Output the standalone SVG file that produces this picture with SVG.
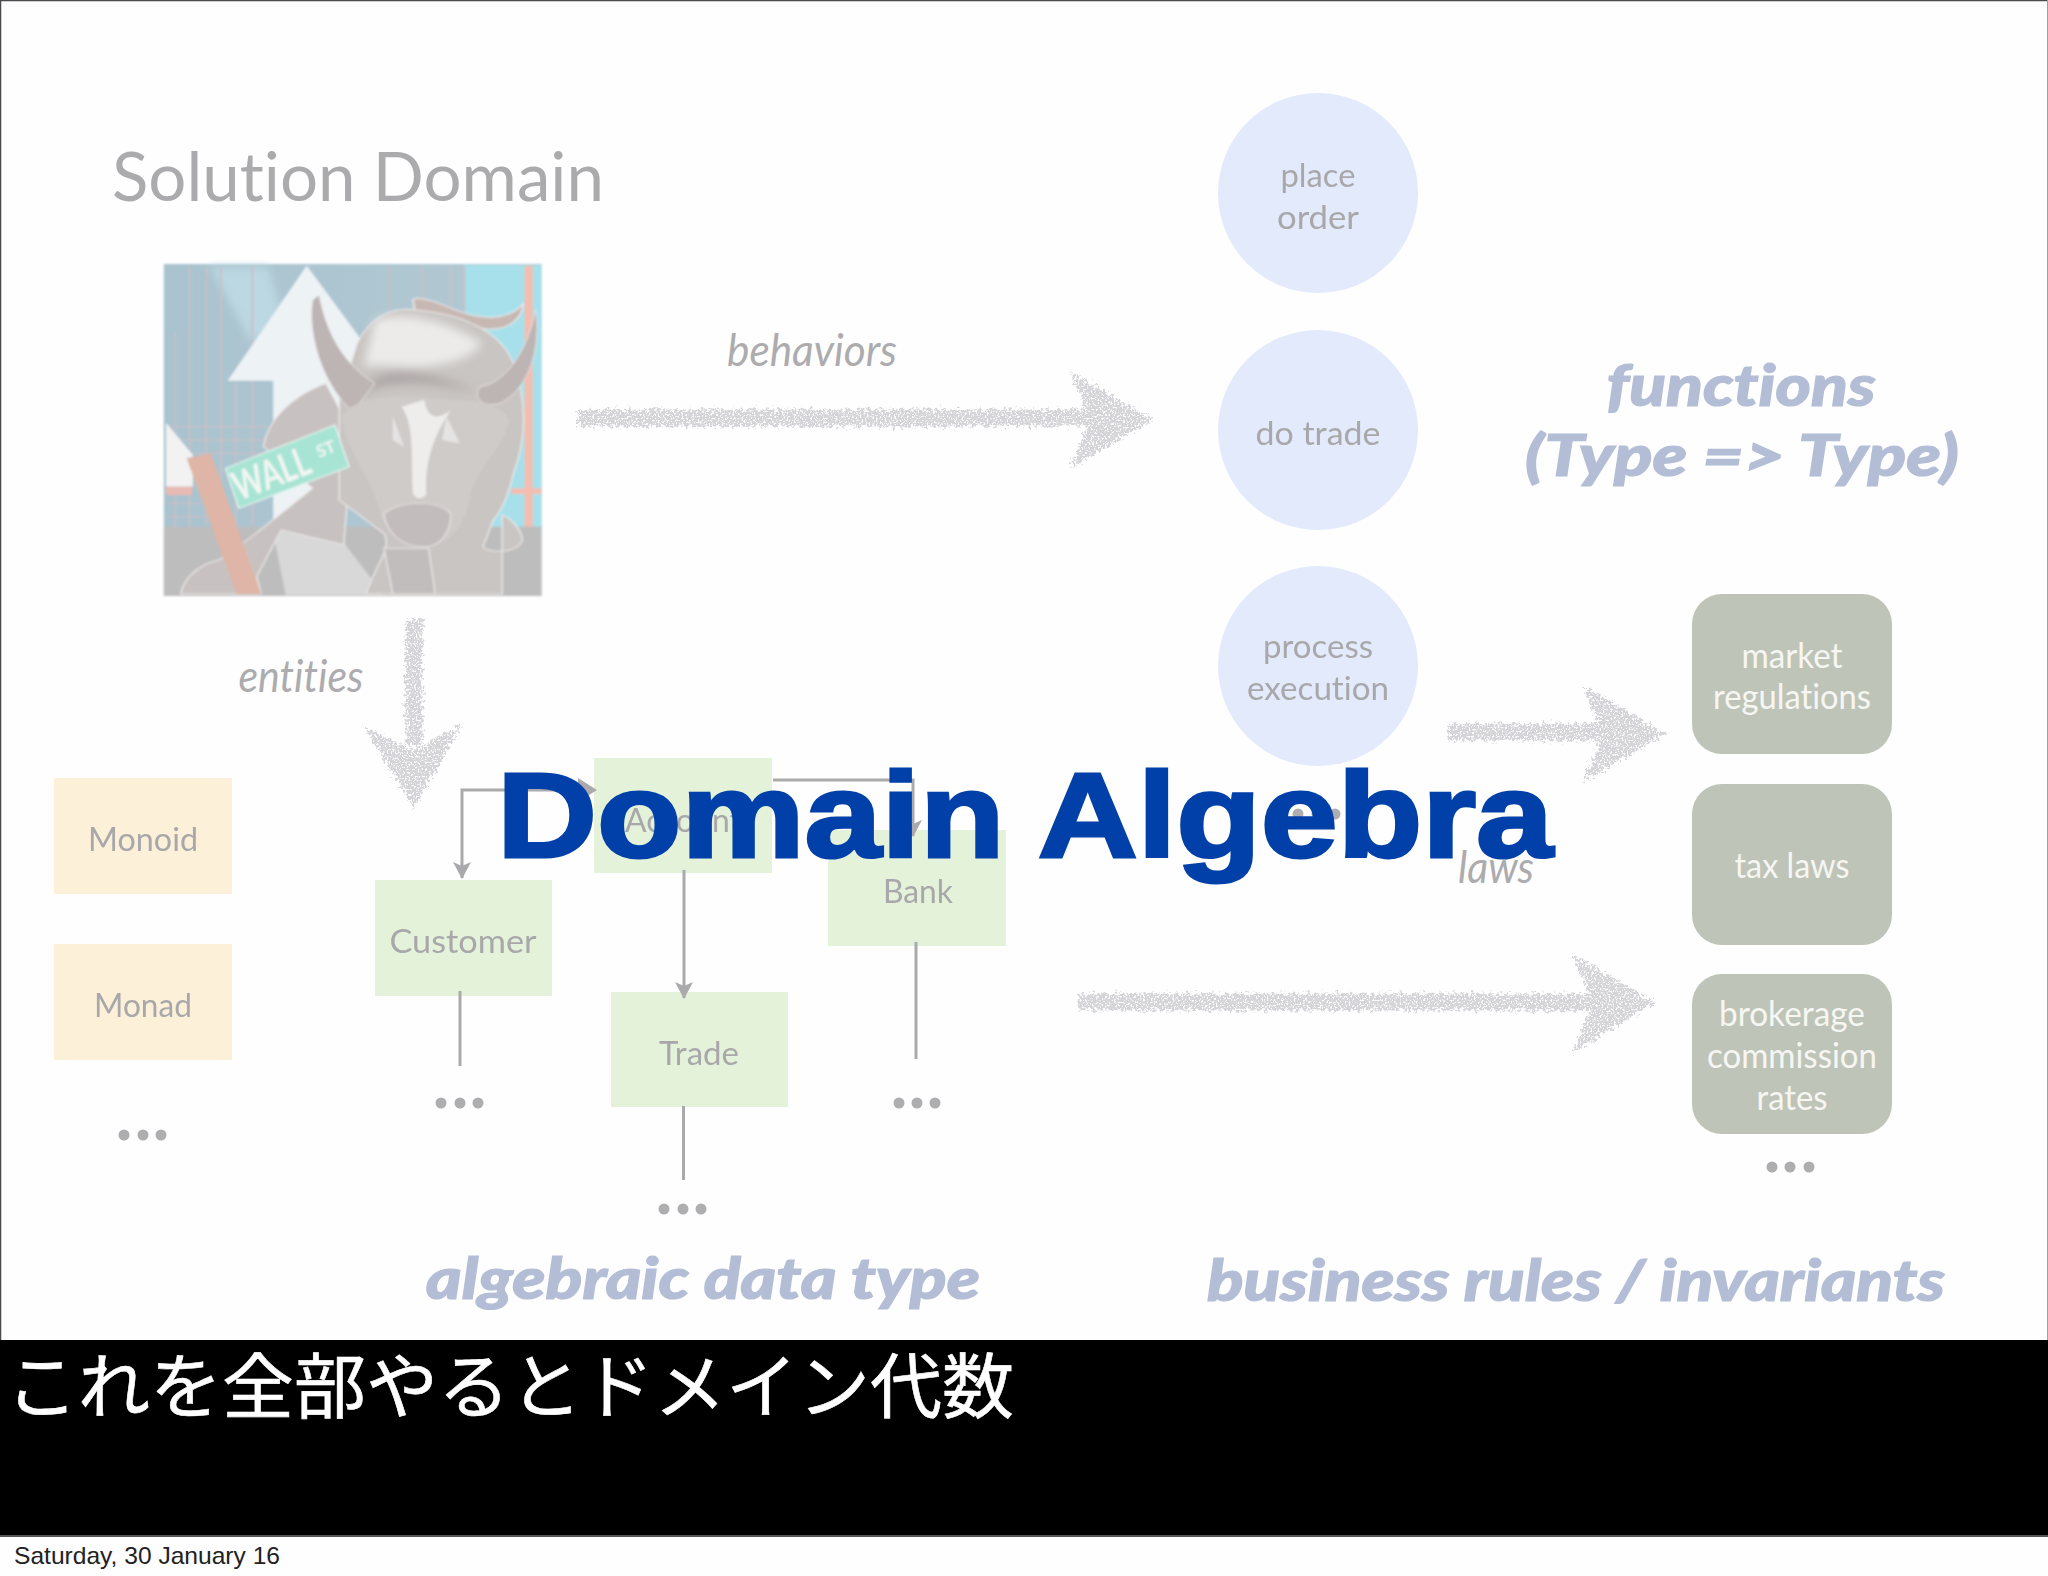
<svg xmlns="http://www.w3.org/2000/svg" width="2048" height="1576" viewBox="0 0 2048 1576">
<style>
text{font-family:"Lato","Open Sans","Noto Sans",sans-serif;font-variant-ligatures:none}
.lb{font-size:33px;fill:#a8a8aa;text-anchor:middle;filter:url(#soft);transform:translateY(2px)}
.wh{font-size:34px;fill:#f6f6f2;text-anchor:middle;transform:translateY(2px)}
.it{font-size:44px;fill:#acacae;font-style:italic;text-anchor:middle;transform:translateY(2px)}
.hd{font-size:57px;fill:#b3bed6;stroke:#b3bed6;stroke-width:1.2px;font-style:italic;font-weight:900;text-anchor:middle;transform:translateY(3px)}
.green{fill:#e4f2da}.orange{fill:#fdf0d9}.circ{fill:#e3eafb}.rule{fill:#bfc4b8}
.ln{fill:none;stroke:#aaaaac;stroke-width:3}
.dot{fill:#aeaeb0}
.sk{fill:#d5d4d8;stroke:#d5d4d8}
</style>
<defs>
<filter id="soft" x="-10%" y="-30%" width="120%" height="170%"><feGaussianBlur stdDeviation="0.7"/></filter>
<filter id="pic" filterUnits="userSpaceOnUse" x="160" y="260" width="386" height="340"><feGaussianBlur stdDeviation="1.1"/></filter>
<filter id="wide" x="-20%" y="-20%" width="140%" height="140%"><feGaussianBlur stdDeviation="9 14"/></filter>
<filter id="rough" filterUnits="userSpaceOnUse" x="0" y="0" width="2048" height="1576">
<feTurbulence type="fractalNoise" baseFrequency="0.28" numOctaves="2" seed="4" result="n1"/>
<feDisplacementMap in="SourceGraphic" in2="n1" scale="13" xChannelSelector="R" yChannelSelector="G" result="d"/>
<feTurbulence type="fractalNoise" baseFrequency="0.55" numOctaves="2" seed="9" result="n2"/>
<feColorMatrix in="n2" type="matrix" values="0 0 0 0 0  0 0 0 0 0  0 0 0 0 0  7 0 0 0 -2.300" result="holes"/>
<feComposite in="d" in2="holes" operator="in"/>
</filter>
<marker id="ah" markerUnits="userSpaceOnUse" markerWidth="18" markerHeight="24" refX="16" refY="9" orient="auto"><path d="M0,0 L17,9 L0,18 L4,9 Z" fill="#aaaaac"/></marker>
<linearGradient id="sky" x1="0" x2="1" y1="0" y2="0"><stop offset="0" stop-color="#a9c3cf"/><stop offset="1" stop-color="#b3c9d3"/></linearGradient>
</defs>
<rect width="2048" height="1576" fill="#fefefe"/>
<path d="M0,0.5H2048M0.5,0V1536" stroke="#4a4a4e" stroke-width="1.5" fill="none"/>
<path d="M2047.5,0V1536" stroke="#a0a0a4" fill="none"/>

<text x="358" y="201" font-size="68" fill="#ababad" text-anchor="middle" textLength="492" lengthAdjust="spacingAndGlyphs">Solution Domain</text>

<g id="bull" filter="url(#pic)">
<g transform="translate(0,100) scale(0.44643,0.33333)">
<rect x="367" y="492" width="846" height="996" fill="url(#sky)"/>
<path d="M470,500 L600,500 L650,720 L560,720 Z" fill="#bcd8e2" filter="url(#wide)"/>
<rect x="1040" y="495" width="173" height="790" fill="#a7e0ea"/>
<g stroke="#c8c0c6" stroke-width="4" fill="none">
<path d="M392,700V1280M425,500V1280M462,500V1280M495,500V1280M528,850V1280M565,500V1280M872,500V640M945,500V620M1010,500V650M1040,500V650"/>
<path d="M372,980H600M372,1020H600M372,1060H590M372,1210H480M372,1250H480"/>
</g>
<path d="M372,968 L432,1065 L432,1160 L372,1160 Z" fill="#f2f2f3"/>
<path d="M372,1160H430V1185H372Z" fill="#e9b9b3"/>
<path d="M1175,497H1193V1285H1175Z M1145,1165H1213V1182H1145Z" fill="#f3bdb0"/>
<path d="M687,497 L815,730 L760,1000 L730,1285 L612,1285 L612,842 L510,842 Z" fill="#edf2f5"/>
<rect x="367" y="1280" width="846" height="208" fill="#bdbdbe"/>
<path d="M610,1285 L745,1285 L860,1485 L640,1485 Z" fill="#d8d8d9"/>
<path d="M925,598 C945,588 985,610 1030,635 C1085,660 1140,660 1172,612 C1170,655 1140,692 1090,687 C1040,680 980,655 930,640 Z" fill="#c8b8b4" stroke="#eee" stroke-width="3"/>
<path d="M590,1040 C600,960 650,890 730,850 L790,1000 L770,1335 L630,1290 L575,1430 L585,1482 L405,1482 C410,1440 440,1395 490,1380 C540,1340 620,1250 700,1165 Z" fill="#c7c2c1" stroke="#ece9e8" stroke-width="3"/>
<path d="M800,730 C830,650 880,620 930,630 C1030,640 1120,690 1150,790 C1175,880 1185,1000 1150,1120 C1140,1180 1125,1230 1105,1260 L1082,1340 C1095,1362 1165,1360 1170,1320 C1170,1290 1140,1250 1125,1245 L1125,1482 L820,1482 C840,1400 880,1340 860,1300 L760,1200 L760,900 Z" fill="#c9c5c3" stroke="#ece9e8" stroke-width="3"/>
<path d="M840,660 C900,630 1000,660 1080,730 C1060,770 1000,800 930,800 C880,800 840,790 815,800 Z" fill="#ecebea" filter="url(#wide)"/>
<path d="M790,900 C850,820 1000,850 1080,880 C1040,860 980,820 900,820 C850,820 810,850 790,900 Z" fill="#a9a3a2" filter="url(#wide)"/>
<path d="M700,600 L715,585 C730,690 765,790 840,850 L790,935 C730,865 688,720 700,600 Z" fill="#bdb5b3" stroke="#eee" stroke-width="2"/>
<path d="M1200,628 C1212,730 1190,865 1120,910 C1090,925 1055,900 1075,860 C1130,850 1180,760 1200,628 Z" fill="#bdb5b3" stroke="#eee" stroke-width="2"/>
<path d="M765,950 C800,880 900,880 1010,900 C1080,900 1130,920 1140,960 C1130,1050 1065,1100 1052,1200 C1042,1262 1020,1322 960,1342 C900,1342 862,1300 850,1230 C832,1130 772,1050 765,950 Z" fill="#cfcbc9"/>
<path d="M900,920 C930,980 920,1080 925,1180 C930,1200 950,1200 955,1180 C950,1080 975,1000 1010,930 C980,960 960,960 950,900 Z" fill="#eeedec" filter="url(#soft)"/>
<path d="M880,950 L905,1040 L880,1020 Z M1000,950 L1030,1030 L990,1020 Z" fill="#e6e4e3" filter="url(#soft)"/>
<path d="M860,1240 C900,1200 980,1200 1010,1240 C1010,1310 980,1340 950,1340 C900,1340 865,1300 860,1240 Z" fill="#c2bdbc" stroke="#e4e2e1" stroke-width="3"/>
<path d="M860,1345 L960,1345 L975,1482 L880,1482 Z" fill="#c1bdbd" stroke="#e9e7e6" stroke-width="3"/>
<path d="M418,1075 L472,1060 L585,1482 L530,1482 Z" fill="#deb5a6"/>
<path d="M505,1105 L750,975 L782,1100 L535,1225 Z" fill="#a8e4d4" stroke="#e9f5f0" stroke-width="3"/>
</g>
<text transform="translate(239,501) rotate(-21)" font-size="40" fill="#f2f6f3" font-weight="700" textLength="80" lengthAdjust="spacingAndGlyphs">WALL</text>
<text transform="translate(319,458) rotate(-21)" font-size="17" fill="#f2f6f3" font-weight="700" textLength="19" lengthAdjust="spacingAndGlyphs">ST</text>
</g>

<g id="label-behaviors"><text class="it" x="812" y="364" textLength="170" lengthAdjust="spacingAndGlyphs">behaviors</text></g>
<g id="label-entities"><text class="it" x="301" y="690" textLength="125" lengthAdjust="spacingAndGlyphs">entities</text></g>

<g id="place-order"><circle class="circ" cx="1318" cy="193" r="100"/><text class="lb" x="1318" y="185" textLength="75" lengthAdjust="spacingAndGlyphs">place</text><text class="lb" x="1318" y="227" textLength="82" lengthAdjust="spacingAndGlyphs">order</text></g>
<g id="do-trade"><circle class="circ" cx="1318" cy="430" r="100"/><text class="lb" x="1318" y="443" textLength="125" lengthAdjust="spacingAndGlyphs">do trade</text></g>
<g id="process-execution"><circle class="circ" cx="1318" cy="666" r="100"/><text class="lb" x="1318" y="656" textLength="110" lengthAdjust="spacingAndGlyphs">process</text><text class="lb" x="1318" y="698" textLength="142" lengthAdjust="spacingAndGlyphs">execution</text></g>
<g id="process-dots"><circle class="dot" cx="1298" cy="814" r="5.500"/><circle class="dot" cx="1317" cy="814" r="5.500"/><circle class="dot" cx="1335" cy="814" r="5.500"/></g>

<g id="functions"><text class="hd" x="1741" y="403" textLength="269" lengthAdjust="spacingAndGlyphs">functions</text><text class="hd" x="1742" y="473" textLength="434" lengthAdjust="spacingAndGlyphs">(Type =&gt; Type)</text></g>

<g id="monoid"><rect class="orange" x="54" y="778" width="178" height="116"/><text class="lb" x="143" y="849" textLength="110" lengthAdjust="spacingAndGlyphs">Monoid</text></g>
<g id="monad"><rect class="orange" x="54" y="944" width="178" height="116"/><text class="lb" x="143" y="1015" textLength="98" lengthAdjust="spacingAndGlyphs">Monad</text></g>
<g id="monoid-dots"><circle class="dot" cx="124" cy="1135" r="5.500"/><circle class="dot" cx="143" cy="1135" r="5.500"/><circle class="dot" cx="161" cy="1135" r="5.500"/></g>

<g id="account"><rect class="green" x="594" y="758" width="178" height="115"/><text class="lb" x="683" y="830" textLength="116" lengthAdjust="spacingAndGlyphs">Account</text></g>
<g id="customer"><rect class="green" x="375" y="880" width="177" height="116"/><text class="lb" x="463" y="951" textLength="147" lengthAdjust="spacingAndGlyphs">Customer</text></g>
<g id="bank"><rect class="green" x="828" y="830" width="178" height="116"/><text class="lb" x="918" y="901" textLength="70" lengthAdjust="spacingAndGlyphs">Bank</text></g>
<g id="trade"><rect class="green" x="611" y="992" width="177" height="115"/><text class="lb" x="699" y="1063" textLength="80" lengthAdjust="spacingAndGlyphs">Trade</text></g>
<g id="adt-dots"><circle class="dot" cx="441" cy="1103" r="5.500"/><circle class="dot" cx="460" cy="1103" r="5.500"/><circle class="dot" cx="478" cy="1103" r="5.500"/><circle class="dot" cx="664" cy="1209" r="5.500"/><circle class="dot" cx="683" cy="1209" r="5.500"/><circle class="dot" cx="701" cy="1209" r="5.500"/><circle class="dot" cx="899" cy="1103" r="5.500"/><circle class="dot" cx="917" cy="1103" r="5.500"/><circle class="dot" cx="935" cy="1103" r="5.500"/></g>

<g id="market-regulations"><rect class="rule" x="1692" y="594" width="200" height="160" rx="30"/><text class="wh" x="1792" y="666" textLength="101" lengthAdjust="spacingAndGlyphs">market</text><text class="wh" x="1792" y="707" textLength="158" lengthAdjust="spacingAndGlyphs">regulations</text></g>
<g id="tax-laws"><rect class="rule" x="1692" y="784" width="200" height="161" rx="30"/><text class="wh" x="1792" y="876" textLength="115" lengthAdjust="spacingAndGlyphs">tax laws</text></g>
<g id="brokerage"><rect class="rule" x="1692" y="974" width="200" height="160" rx="30"/><text class="wh" x="1792" y="1024" textLength="146" lengthAdjust="spacingAndGlyphs">brokerage</text><text class="wh" x="1792" y="1066" textLength="170" lengthAdjust="spacingAndGlyphs">commission</text><text class="wh" x="1792" y="1108" textLength="71" lengthAdjust="spacingAndGlyphs">rates</text></g>
<g id="rule-dots"><circle class="dot" cx="1772" cy="1167" r="5.500"/><circle class="dot" cx="1790" cy="1167" r="5.500"/><circle class="dot" cx="1809" cy="1167" r="5.500"/></g>

<g id="connectors">
<g filter="url(#rough)">
<path class="sk" stroke-width="17" d="M578,418H1110"/>
<path class="sk" stroke-width="3" d="M1073,375 L1150,419 L1073,465 L1092,419 Z"/>
<path class="sk" stroke-width="17" d="M414,620V745"/>
<path class="sk" stroke-width="3" d="M368,730 L414,805 L458,728 L414,752 Z"/>
<path class="sk" stroke-width="17" d="M1449,732H1630"/>
<path class="sk" stroke-width="3" d="M1585,688 L1662,734 L1585,779 L1605,734 Z"/>
<path class="sk" stroke-width="17" d="M1078,1002H1620"/>
<path class="sk" stroke-width="3" d="M1575,958 L1652,1002 L1575,1050 L1595,1002 Z"/>
</g>
<path class="ln" d="M592,790H462V878" marker-end="url(#ah)"/>
<path d="M578,778 L597,790 L578,802 Z" fill="#aaaaac"/>
<path class="ln" d="M773,780H913V836" marker-end="url(#ah)"/>
<path class="ln" d="M684,870V998" marker-end="url(#ah)"/>
<path class="ln" d="M460,991V1066M683.500,1106V1180M916,942V1059"/>
</g>

<g id="label-adt"><text class="hd" x="703" y="1296" textLength="554" lengthAdjust="spacingAndGlyphs">algebraic data type</text></g>
<g id="label-rules"><text class="hd" x="1576" y="1298" textLength="738" lengthAdjust="spacingAndGlyphs">business rules / invariants</text></g>
<g id="label-laws"><text class="it" x="1496" y="881" textLength="76" lengthAdjust="spacingAndGlyphs">laws</text></g>

<g id="title"><text x="497" y="857" font-size="120" font-weight="700" fill="#0040a8" stroke="#0040a8" stroke-width="3" style="font-family:'Liberation Sans',Arial,sans-serif" textLength="1056" lengthAdjust="spacingAndGlyphs">Domain Algebra</text></g>

<g id="caption"><rect x="0" y="1340" width="2048" height="196" fill="#000"/><rect x="0" y="1535" width="2048" height="2" fill="#555"/>
<text x="6" y="1412" font-size="71" fill="#fff" stroke="#fff" stroke-width="0.6" style="font-family:'Noto Sans CJK JP','Noto Sans CJK SC',sans-serif" textLength="1008" lengthAdjust="spacingAndGlyphs">これを全部やるとドメイン代数</text></g>
<g id="date"><text x="14" y="1564" font-size="24" fill="#222" style="font-family:'Liberation Sans',Arial,sans-serif" textLength="266" lengthAdjust="spacingAndGlyphs">Saturday, 30 January 16</text></g>
</svg>
